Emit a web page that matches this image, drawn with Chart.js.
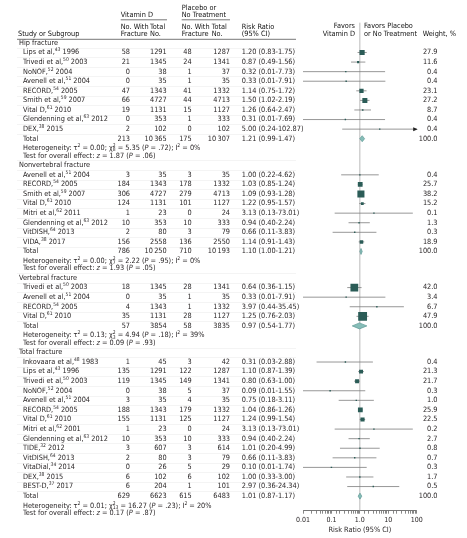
<!DOCTYPE html>
<html>
<head>
<meta charset="utf-8">
<script src="https://cdn.jsdelivr.net/npm/chart.js@4"></script>
<style>
  html, body { margin: 0; padding: 0; background: #fff; }
  #wrap { position: relative; width: 467px; height: 538px; }
</style>
</head>
<body>
<div id="wrap"><canvas id="forest"></canvas></div>
<script>
// ---- data ----
const groupNames = ['Hip fracture', 'Nonvertebral fracture', 'Vertebral fracture', 'Total fracture'];
const groupSizes = [9, 8, 4, 14];

const studies = [
  'Lips et al,^{43} 1996', 'Trivedi et al,^{50} 2003', 'NoNOF,^{52} 2004', 'Avenell et al,^{51} 2004',
  'RECORD,^{54} 2005', 'Smith et al,^{59} 2007', 'Vital D,^{61} 2010', 'Glendenning et al,^{63} 2012', 'DEX,^{38} 2015',
  'Avenell et al,^{51} 2004', 'RECORD,^{54} 2005', 'Smith et al,^{59} 2007', 'Vital D,^{61} 2010',
  'Mitri et al,^{62} 2011', 'Glendenning et al,^{63} 2012', 'VitDISH,^{64} 2013', 'VIDA,^{38} 2017',
  'Trivedi et al,^{50} 2003', 'Avenell et al,^{51} 2004', 'RECORD,^{54} 2005', 'Vital D,^{61} 2010',
  'Inkovaara et al,^{48} 1983', 'Lips et al,^{43} 1996', 'Trivedi et al,^{50} 2003', 'NoNOF,^{52} 2004',
  'Avenell et al,^{51} 2004', 'RECORD,^{54} 2005', 'Vital D,^{61} 2010', 'Mitri et al,^{62} 2001',
  'Glendenning et al,^{63} 2012', 'TIDE,^{32} 2012', 'VitDISH,^{64} 2013', 'VitaDial,^{34} 2014',
  'DEX,^{38} 2015', 'BEST-D,^{37} 2017'
];
const vdEvents = [58, 21, 0, 0, 47, 66, 19, 0, 2,  3, 184, 306, 124, 1, 10, 2, 156,  18, 0, 4, 35,
  1, 135, 119, 0, 3, 188, 155, 1, 10, 3, 2, 0, 6, 6];
const vdTotal = [1291, 1345, 38, 35, 1343, 4727, 1131, 353, 102,  35, 1343, 4727, 1131, 23, 353, 80, 2558,
  1345, 35, 1343, 1131,  45, 1291, 1345, 38, 35, 1343, 1131, 23, 353, 607, 80, 26, 102, 204];
const ctEvents = [48, 24, 1, 1, 41, 44, 15, 1, 0,  3, 178, 279, 101, 0, 10, 3, 136,  28, 1, 1, 28,
  3, 122, 149, 5, 4, 179, 125, 0, 10, 3, 3, 5, 6, 1];
const ctTotal = [1287, 1341, 37, 35, 1332, 4713, 1127, 333, 102,  35, 1332, 4713, 1127, 24, 333, 79, 2550,
  1341, 35, 1332, 1127,  42, 1287, 1341, 37, 35, 1332, 1127, 24, 333, 614, 79, 29, 102, 101];
const riskRatio = [1.20, 0.87, 0.32, 0.33, 1.14, 1.50, 1.26, 0.31, 5.00,  1.00, 1.03, 1.09, 1.22, 3.13, 0.94, 0.66, 1.14,
  0.64, 0.33, 3.97, 1.25,  0.31, 1.10, 0.80, 0.09, 0.75, 1.04, 1.24, 3.13, 0.94, 1.01, 0.66, 0.10, 1.00, 2.97];
const ciLow = [0.83, 0.49, 0.01, 0.01, 0.75, 1.02, 0.64, 0.01, 0.24,  0.22, 0.85, 0.93, 0.95, 0.13, 0.40, 0.11, 0.91,
  0.36, 0.01, 0.44, 0.76,  0.03, 0.87, 0.63, 0.01, 0.18, 0.86, 0.99, 0.13, 0.40, 0.20, 0.11, 0.01, 0.33, 0.36];
const ciHigh = [1.75, 1.56, 7.73, 7.91, 1.72, 2.19, 2.47, 7.69, 102.87,  4.62, 1.24, 1.28, 1.57, 73.01, 2.24, 3.83, 1.43,
  1.15, 7.91, 35.45, 2.03,  2.88, 1.39, 1.00, 1.55, 3.11, 1.26, 1.54, 73.01, 2.24, 4.99, 3.83, 1.74, 3.00, 24.34];
const weights = [27.9, 11.6, 0.4, 0.4, 23.1, 27.2, 8.7, 0.4, 0.4,  0.4, 25.7, 38.2, 15.2, 0.1, 1.3, 0.3, 18.9,
  42.0, 3.4, 6.7, 47.9,  0.4, 21.3, 21.7, 0.3, 1.0, 25.9, 22.5, 0.2, 2.7, 0.8, 0.7, 0.3, 1.7, 0.5];

const totVdEvents = [213, 786, 57, 629];
const totVdN = [10365, 10250, 3854, 6623];
const totCtEvents = [175, 710, 58, 615];
const totCtN = [10307, 10193, 3835, 6483];
const totRR = [1.21, 1.10, 0.97, 1.01];
const totLow = [0.99, 1.00, 0.54, 0.87];
const totHigh = [1.47, 1.21, 1.77, 1.17];

const heterogeneity = [
  'Heterogeneity: τ^{2} = 0.00; χ^{2}_{8} = 5.35 (*P* = .72); I^{2} = 0%',
  'Heterogeneity: τ^{2} = 0.00; χ^{2}_{7} = 2.22 (*P* = .95); I^{2} = 0%',
  'Heterogeneity: τ^{2} = 0.13; χ^{2}_{3} = 4.94 (*P* = .18); I^{2} = 39%',
  'Heterogeneity: τ^{2} = 0.01; χ^{2}_{13} = 16.27 (*P* = .23); I^{2} = 20%'
];
const overallEffect = [
  'Test for overall effect: *z* = 1.87 (*P* = .06)',
  'Test for overall effect: *z* = 1.93 (*P* = .05)',
  'Test for overall effect: *z* = 0.09 (*P* = .93)',
  'Test for overall effect: *z* = 0.17 (*P* = .87)'
];

const xTickValues = [0.01, 0.1, 1, 10, 100];
const xTickLabels = ['0.01', '0.1', '1.0', '10', '100'];

// ---- row layout (in row units on the y scale) ----
const rowY = [], headerY = [], totalY = [], hetY = [], testY = [];
let r = 0;
groupSizes.forEach(n => {
  headerY.push(r);
  for (let i = 1; i <= n; i++) rowY.push(r + i);
  totalY.push(r + n + 1);
  hetY.push(r + n + 2);
  testY.push(r + n + 2.77);
  r += n + 3.77;
});

// ---- text helpers ----
const FAMILY = '"Liberation Sans Narrow", "DejaVu Sans Condensed", "Arial Narrow", sans-serif';
const TXT = '#231f20';
const SIZE = 7.3;

function parseRich(str) {
  const segs = [];
  const re = /\^\{([^}]*)\}|_\{([^}]*)\}|\*([^*]*)\*|([^\^_*]+)/g;
  let m;
  while ((m = re.exec(str))) {
    if (m[1] !== undefined) segs.push({ t: m[1], kind: 'sup' });
    else if (m[2] !== undefined) segs.push({ t: m[2], kind: 'sub' });
    else if (m[3] !== undefined) segs.push({ t: m[3], kind: 'it' });
    else segs.push({ t: m[4], kind: 'n' });
  }
  return segs;
}

function drawRich(ctx, str, x, y, align, opts) {
  opts = opts || {};
  const size = opts.size || SIZE;
  const fontFor = k => {
    if (k === 'sup' || k === 'sub') return (size * 0.68) + 'px ' + FAMILY;
    if (k === 'it') return 'italic ' + size + 'px ' + FAMILY;
    return size + 'px ' + FAMILY;
  };
  const segs = parseRich(str);
  const placed = [];
  let w = 0, lastSup = null;
  segs.forEach(s => {
    ctx.font = fontFor(s.kind);
    const sw = ctx.measureText(s.t).width;
    if (s.kind === 'sub' && lastSup) {
      placed.push({ s, x: lastSup.x });
      w = lastSup.x + Math.max(lastSup.w, sw);
      lastSup = null;
    } else {
      placed.push({ s, x: w });
      lastSup = s.kind === 'sup' ? { x: w, w: sw } : null;
      w += sw;
    }
  });
  const x0 = align === 'right' ? x - w : align === 'center' ? x - w / 2 : x;
  ctx.fillStyle = opts.color || TXT;
  ctx.textAlign = 'left';
  ctx.textBaseline = 'middle';
  placed.forEach(p => {
    ctx.font = fontFor(p.s.kind);
    let dy = 0;
    if (p.s.kind === 'sup') dy = -size * 0.33;
    if (p.s.kind === 'sub') dy = size * 0.25;
    ctx.fillText(p.s.t, x0 + p.x, y + dy);
  });
}

const fmtN = n => n >= 10000 ? String(n).replace(/(\d+)(\d{3})$/, '$1\u2009$2') : String(n);
const fmtRR = (v, a, b) => v.toFixed(2) + ' (' + a.toFixed(2) + '-' + b.toFixed(2) + ')';

// column positions (px)
const COL = { name: 23, group: 19, vdE: 130, vdN: 166.7, ctE: 191.7, ctN: 230, rr: 241.7, wt: 437.5 };
const HEAD = '#111';

const forestPlugin = {
  id: 'forest',
  beforeDatasetsDraw(chart) {
    const { ctx, chartArea, scales: { x, y } } = chart;
    ctx.save();
    // faint row separators in the table
    ctx.strokeStyle = '#ececec';
    ctx.lineWidth = 0.6;
    groupSizes.forEach((n, g) => {
      const lines = g ? [headerY[g] - 0.5] : [];
      for (let k = 0; k <= n; k++) lines.push(headerY[g] + k + 0.5);
      lines.forEach(v => {
        const py = Math.round(y.getPixelForValue(v)) + 0.5;
        ctx.beginPath(); ctx.moveTo(17, py); ctx.lineTo(296, py); ctx.stroke();
      });
    });
    // line of no effect
    const x1 = x.getPixelForValue(1);
    ctx.strokeStyle = '#a8a8a8';
    ctx.lineWidth = 0.8;
    ctx.beginPath(); ctx.moveTo(x1, chartArea.top); ctx.lineTo(x1, chartArea.bottom); ctx.stroke();
    // confidence intervals
    ctx.strokeStyle = '#7c7c7c';
    ctx.fillStyle = '#222';
    ctx.lineWidth = 0.8;
    studies.forEach((s, i) => {
      const py = y.getPixelForValue(rowY[i]);
      const a = x.getPixelForValue(Math.max(ciLow[i], x.min));
      const b = x.getPixelForValue(Math.min(ciHigh[i], x.max));
      ctx.beginPath(); ctx.moveTo(a, py); ctx.lineTo(b, py); ctx.stroke();
      if (ciHigh[i] > x.max) {
        ctx.beginPath(); ctx.moveTo(b + 1, py); ctx.lineTo(b - 3.5, py - 2); ctx.lineTo(b - 3.5, py + 2);
        ctx.closePath(); ctx.fill();
      }
    });
    ctx.restore();
  },
  afterDatasetsDraw(chart) {
    const { ctx, scales: { x, y } } = chart;
    ctx.save();
    // pooled estimates
    totRR.forEach((v, g) => {
      const py = y.getPixelForValue(totalY[g]);
      const a = x.getPixelForValue(totLow[g]);
      const m = x.getPixelForValue(v);
      const b = x.getPixelForValue(totHigh[g]);
      ctx.beginPath();
      ctx.moveTo(a, py); ctx.lineTo(m, py - 3); ctx.lineTo(b, py); ctx.lineTo(m, py + 3);
      ctx.closePath();
      ctx.fillStyle = '#86bdb8';
      ctx.strokeStyle = '#5f9a95';
      ctx.lineWidth = 0.7;
      ctx.fill(); ctx.stroke();
    });
    ctx.restore();
  },
  afterDraw(chart) {
    const { ctx, scales: { y } } = chart;
    ctx.save();
    const h = { color: HEAD };
    // column headers
    drawRich(ctx, 'Vitamin D', 120.7, 15, 'left', h);
    drawRich(ctx, 'Placebo or', 181.7, 8.5, 'left', h);
    drawRich(ctx, 'No Treatment', 181.7, 15.5, 'left', h);
    [120.7, 181.7].forEach(cx => {
      drawRich(ctx, 'No. With', cx, 27.3, 'left', h);
      drawRich(ctx, 'Fracture', cx, 34, 'left', h);
    });
    [150, 211.7].forEach(cx => {
      drawRich(ctx, 'Total', cx, 27.3, 'left', h);
      drawRich(ctx, 'No.', cx, 34, 'left', h);
    });
    drawRich(ctx, 'Study or Subgroup', 18, 34, 'left', h);
    drawRich(ctx, 'Risk Ratio', 241.7, 27, 'left', h);
    drawRich(ctx, '(95% CI)', 241.7, 34, 'left', h);
    drawRich(ctx, 'Favors', 355, 26.5, 'right', h);
    drawRich(ctx, 'Vitamin D', 355, 34, 'right', h);
    drawRich(ctx, 'Favors Placebo', 364, 26.5, 'left', h);
    drawRich(ctx, 'or No Treatment', 364, 34, 'left', h);
    drawRich(ctx, 'Weight, %', 422.7, 34, 'left', h);

    ctx.strokeStyle = '#555';
    ctx.lineWidth = 0.8;
    ctx.beginPath();
    ctx.moveTo(120.7, 19.8); ctx.lineTo(167, 19.8);
    ctx.moveTo(181.7, 19.8); ctx.lineTo(230, 19.8);
    ctx.moveTo(17, 39.3); ctx.lineTo(296, 39.3);
    ctx.stroke();

    // study rows
    studies.forEach((s, i) => {
      const py = y.getPixelForValue(rowY[i]);
      drawRich(ctx, s, COL.name, py, 'left');
      drawRich(ctx, String(vdEvents[i]), COL.vdE, py, 'right');
      drawRich(ctx, fmtN(vdTotal[i]), COL.vdN, py, 'right');
      drawRich(ctx, String(ctEvents[i]), COL.ctE, py, 'right');
      drawRich(ctx, fmtN(ctTotal[i]), COL.ctN, py, 'right');
      drawRich(ctx, fmtRR(riskRatio[i], ciLow[i], ciHigh[i]), COL.rr, py, 'left');
      drawRich(ctx, weights[i].toFixed(1), COL.wt, py, 'right');
    });
    // subgroup headers, totals and tests
    groupNames.forEach((name, g) => {
      drawRich(ctx, name, COL.group, y.getPixelForValue(headerY[g]), 'left');
      const py = y.getPixelForValue(totalY[g]);
      drawRich(ctx, 'Total', COL.name, py, 'left');
      drawRich(ctx, String(totVdEvents[g]), COL.vdE, py, 'right');
      drawRich(ctx, fmtN(totVdN[g]), COL.vdN, py, 'right');
      drawRich(ctx, String(totCtEvents[g]), COL.ctE, py, 'right');
      drawRich(ctx, fmtN(totCtN[g]), COL.ctN, py, 'right');
      drawRich(ctx, fmtRR(totRR[g], totLow[g], totHigh[g]), COL.rr, py, 'left');
      drawRich(ctx, '100.0', COL.wt, py, 'right');
      drawRich(ctx, heterogeneity[g], COL.name, y.getPixelForValue(hetY[g]), 'left');
      drawRich(ctx, overallEffect[g], COL.name, y.getPixelForValue(testY[g]), 'left');
    });
    ctx.restore();
  }
};

new Chart(document.getElementById('forest'), {
  type: 'scatter',
  data: {
    datasets: [{
      data: studies.map((s, i) => ({ x: riskRatio[i], y: rowY[i] })),
      pointStyle: 'rect',
      pointRadius: c => Math.max(1.4, weights[c.dataIndex] * 0.185) / Math.SQRT2,
      pointHoverRadius: c => Math.max(1.4, weights[c.dataIndex] * 0.185) / Math.SQRT2,
      backgroundColor: '#2b5c57',
      borderWidth: 0
    }]
  },
  options: {
    responsive: true,
    maintainAspectRatio: false,
    animation: false,
    events: [],
    layout: { padding: { left: 303, right: 50.3, top: 22.7, bottom: 4.6 } },
    plugins: { legend: { display: false }, tooltip: { enabled: false } },
    scales: {
      x: {
        type: 'logarithmic',
        min: 0.01,
        max: 100,
        border: { display: true, color: '#555', width: 0.8 },
        grid: { display: true, drawOnChartArea: false, drawTicks: true, tickLength: 3, color: '#555', lineWidth: 0.7 },
        ticks: {
          autoSkip: false,
          maxRotation: 0,
          minRotation: 0,
          padding: 2,
          color: TXT,
          font: { family: FAMILY, size: 7 },
          callback: v => {
            const i = xTickValues.findIndex(t => Math.abs(t - v) / t < 1e-6);
            return i >= 0 ? xTickLabels[i] : '';
          }
        },
        title: {
          display: true,
          text: 'Risk Ratio (95% CI)',
          color: TXT,
          font: { family: FAMILY, size: 7.3, lineHeight: 1 },
          padding: { top: 0, bottom: 0 }
        }
      },
      y: {
        type: 'linear',
        display: false,
        reverse: true,
        min: -2.11,
        max: 48.83
      }
    }
  },
  plugins: [forestPlugin]
});
</script>
</body>
</html>
